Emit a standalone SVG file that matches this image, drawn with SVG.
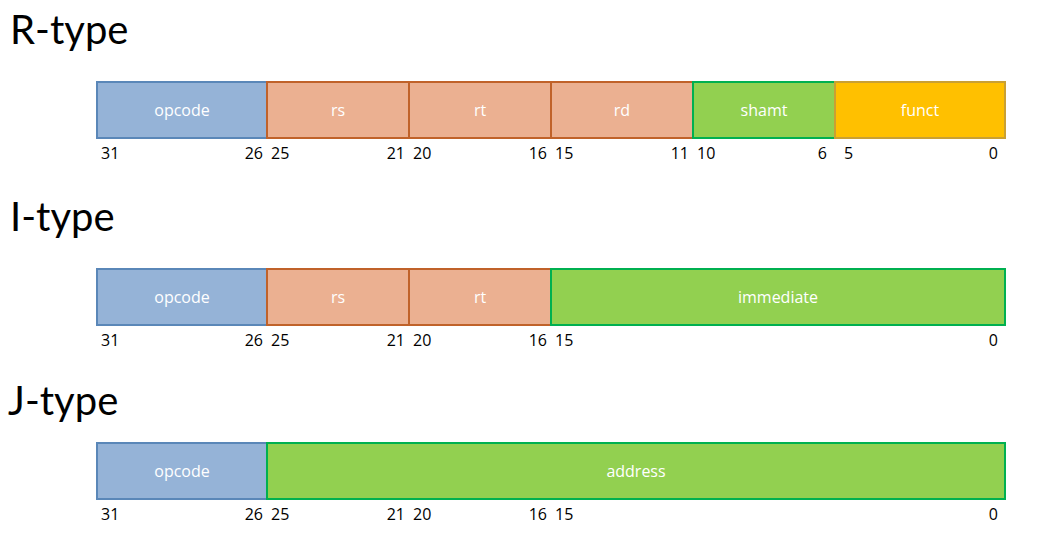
<svg xmlns="http://www.w3.org/2000/svg" width="1056" height="545" viewBox="0 0 1056 545">
<style>
.title{font-family:Lato,"Open Sans",sans-serif;font-size:40px;fill:#000}
.lbl{font-family:"Open Sans","Liberation Sans",sans-serif;font-size:16px;fill:#fff;text-anchor:middle}
.num{font-family:"Open Sans","Liberation Sans",sans-serif;font-size:16px;fill:#000}
.e{text-anchor:end}
.op{fill:#95B3D7;stroke:#5A87B8;stroke-width:2}
.reg{fill:#EBB091;stroke:#C0622A;stroke-width:2}
.gr{fill:#92D050;stroke:#00B050;stroke-width:2}
.fn{fill:#FFC000;stroke:#C9A033;stroke-width:2}
</style>
<rect width="1056" height="545" fill="#fff"/>
<g id="rtype">
<text class="title" x="10" y="44">R-type</text>
<g id="r-opcode"><rect class="op" x="97" y="82" width="170" height="56"/><text class="lbl" x="182" y="116">opcode</text></g>
<g id="r-rs"><rect class="reg" x="267" y="82" width="142" height="56"/><text class="lbl" x="338" y="116">rs</text></g>
<g id="r-rt"><rect class="reg" x="409" y="82" width="142" height="56"/><text class="lbl" x="480" y="116">rt</text></g>
<g id="r-rd"><rect class="reg" x="551" y="82" width="142" height="56"/><text class="lbl" x="622" y="116">rd</text></g>
<g id="r-shamt"><rect class="gr" x="693" y="82" width="142" height="56"/><text class="lbl" x="764" y="116">shamt</text></g>
<g id="r-funct"><rect class="fn" x="835" y="82" width="170" height="56"/><text class="lbl" x="920" y="116">funct</text></g>
<text class="num" x="101" y="159">31</text><text class="num e" x="263" y="159">26</text>
<text class="num" x="271" y="159">25</text><text class="num e" x="405" y="159">21</text>
<text class="num" x="413" y="159">20</text><text class="num e" x="547" y="159">16</text>
<text class="num" x="555" y="159">15</text><text class="num e" x="689" y="159">11</text>
<text class="num" x="697" y="159">10</text><text class="num e" x="827" y="159">6</text>
<text class="num" x="844" y="159">5</text><text class="num e" x="998" y="159">0</text>
</g>
<g id="itype">
<text class="title" x="10" y="231">I-type</text>
<g id="i-opcode"><rect class="op" x="97" y="269" width="170" height="56"/><text class="lbl" x="182" y="303">opcode</text></g>
<g id="i-rs"><rect class="reg" x="267" y="269" width="142" height="56"/><text class="lbl" x="338" y="303">rs</text></g>
<g id="i-rt"><rect class="reg" x="409" y="269" width="142" height="56"/><text class="lbl" x="480" y="303">rt</text></g>
<g id="i-imm"><rect class="gr" x="551" y="269" width="454" height="56"/><text class="lbl" x="778" y="303">immediate</text></g>
<text class="num" x="101" y="346">31</text><text class="num e" x="263" y="346">26</text>
<text class="num" x="271" y="346">25</text><text class="num e" x="405" y="346">21</text>
<text class="num" x="413" y="346">20</text><text class="num e" x="547" y="346">16</text>
<text class="num" x="555" y="346">15</text><text class="num e" x="998" y="346">0</text>
</g>
<g id="jtype">
<text class="title" x="8" y="415">J-type</text>
<g id="j-opcode"><rect class="op" x="97" y="443" width="170" height="56"/><text class="lbl" x="182" y="477">opcode</text></g>
<g id="j-addr"><rect class="gr" x="267" y="443" width="738" height="56"/><text class="lbl" x="636" y="477">address</text></g>
<text class="num" x="101" y="520">31</text><text class="num e" x="263" y="520">26</text>
<text class="num" x="271" y="520">25</text><text class="num e" x="405" y="520">21</text>
<text class="num" x="413" y="520">20</text><text class="num e" x="547" y="520">16</text>
<text class="num" x="555" y="520">15</text><text class="num e" x="998" y="520">0</text>
</g>
</svg>
